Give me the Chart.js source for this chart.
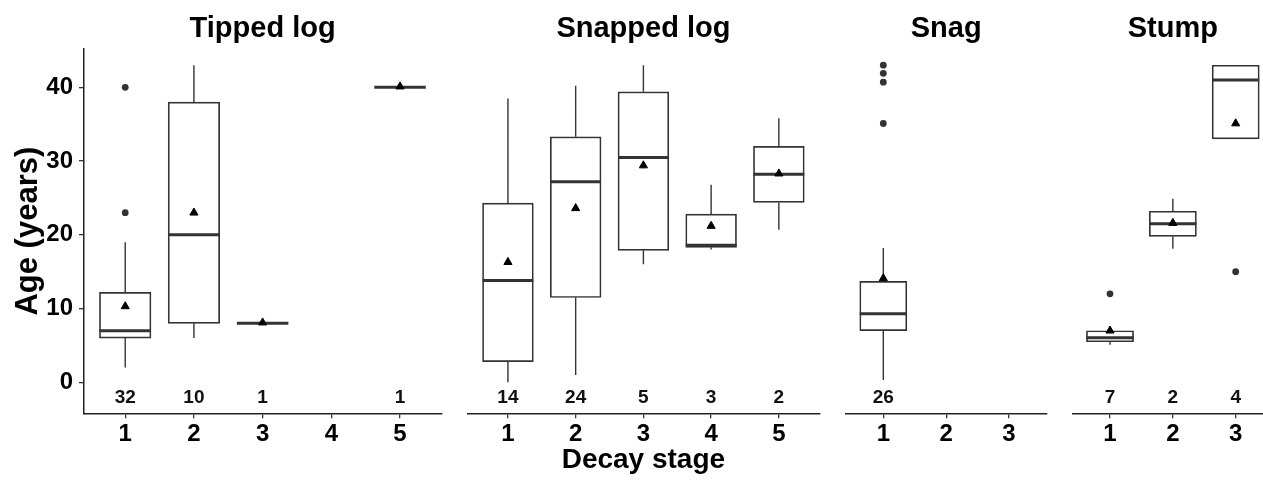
<!DOCTYPE html>
<html>
<head>
<meta charset="utf-8">
<title>Age by decay stage</title>
<script src="https://cdn.jsdelivr.net/npm/chart.js@4.4.0/dist/chart.umd.min.js"></script>
<style>
  html, body { margin: 0; padding: 0; background: #fff; overflow: hidden; }
  #wrap { position: relative; width: 1263px; height: 482px; overflow: hidden; }
  #wrap canvas { position: absolute; top: 0; }
</style>
</head>
<body>
<div id="wrap">
  <canvas id="p-tipped" width="456" height="482"></canvas>
  <canvas id="p-snapped" width="380" height="482"></canvas>
  <canvas id="p-snag" width="226" height="482"></canvas>
  <canvas id="p-stump" width="230" height="482"></canvas>
</div>
<script>
// ---- Data ----

const yTicks = [0, 10, 20, 30, 40];

// Tipped log
const tippedStages = [1, 2, 3, 4, 5];
const tippedLow    = [2,    6,  8,   null, 40];
const tippedQ1     = [6,    8,  8,   null, 40];
const tippedMedian = [7,    20, 8,   null, 40];
const tippedQ3     = [12.2, 38, 8,   null, 40];
const tippedHigh   = [19,   43, 8,   null, 40];
const tippedMean   = [10.3, 23, 8.1, null, 40.1];
const tippedN      = [32,   10, 1,   null, 1];
const tippedOutStage = [1, 1];
const tippedOutValue = [40, 23];

// Snapped log
const snappedStages = [1, 2, 3, 4, 5];
const snappedLow    = [0,    1,    16,   18,   20.7];
const snappedQ1     = [2.8,  11.5, 17.9, 18.3, 24.4];
const snappedMedian = [13.8, 27.2, 30.5, 18.6, 28.2];
const snappedQ3     = [24.3, 33.3, 39.4, 22.8, 32];
const snappedHigh   = [38.5, 40.2, 43,   26.8, 35.8];
const snappedMean   = [16.3, 23.6, 29.4, 21.2, 28.3];
const snappedN      = [14,   24,   5,    3,    2];
const snappedOutStage = [];
const snappedOutValue = [];

// Snag
const snagStages = [1, 2, 3];
const snagLow    = [0.3,  null, null];
const snagQ1     = [7,    null, null];
const snagMedian = [9.3,  null, null];
const snagQ3     = [13.7, null, null];
const snagHigh   = [18.2, null, null];
const snagMean   = [14.1, null, null];
const snagN      = [26,   null, null];
const snagOutStage = [1, 1, 1, 1];
const snagOutValue = [43, 41.9, 40.7, 35.1];

// Stump
const stumpStages = [1, 2, 3];
const stumpLow    = [5.1,  18.1, 33];
const stumpQ1     = [5.5,  19.8, 33];
const stumpMedian = [6.05, 21.5, 41];
const stumpQ3     = [7,    23.2, 43];
const stumpHigh   = [7,    24.9, 43];
const stumpMean   = [7,    21.6, 35.1];
const stumpN      = [7,    2,    4];
const stumpOutStage = [1, 3];
const stumpOutValue = [12, 15];

// ---- Look ----

const Y_MIN = -4.2;
const Y_MAX = 45.2;
const COUNT_Y = -2.1;       // where the n labels sit
const X_EXPAND = 0.6;       // ggplot-style discrete padding
const BOX_WIDTH = 0.75;
const INK = '#333333';
const FONT = '"Liberation Sans", Arial, Helvetica, sans-serif';

Chart.defaults.font.family = FONT;
Chart.defaults.color = '#000';

// canvas placement and plot-area edges, in page pixels
const panels = [
  { id: 'p-tipped',  title: 'Tipped log',  left: 0,    width: 456, plotLeft: 84,    plotRight: 441.25, yAxis: true,
    stages: tippedStages, low: tippedLow, q1: tippedQ1, med: tippedMedian, q3: tippedQ3, high: tippedHigh,
    mean: tippedMean, n: tippedN, outStage: tippedOutStage, outValue: tippedOutValue },
  { id: 'p-snapped', title: 'Snapped log', left: 455,  width: 380, plotLeft: 467.3, plotRight: 819.5, xTitle: 'Decay stage',
    stages: snappedStages, low: snappedLow, q1: snappedQ1, med: snappedMedian, q3: snappedQ3, high: snappedHigh,
    mean: snappedMean, n: snappedN, outStage: snappedOutStage, outValue: snappedOutValue },
  { id: 'p-snag',    title: 'Snag',        left: 834,  width: 226, plotLeft: 845.6, plotRight: 1046.7,
    stages: snagStages, low: snagLow, q1: snagQ1, med: snagMedian, q3: snagQ3, high: snagHigh,
    mean: snagMean, n: snagN, outStage: snagOutStage, outValue: snagOutValue },
  { id: 'p-stump',   title: 'Stump',       left: 1060, width: 230, plotLeft: 1072.3, plotRight: 1273.4,
    stages: stumpStages, low: stumpLow, q1: stumpQ1, med: stumpMedian, q3: stumpQ3, high: stumpHigh,
    mean: stumpMean, n: stumpN, outStage: stumpOutStage, outValue: stumpOutValue },
];

const PLOT_BOTTOM = 413.3;
const CANVAS_H = 482;

// ---- Count labels under each box ----

const countLabels = {
  id: 'countLabels',
  afterDatasetsDraw(chart, args, opts) {
    const { ctx, scales: { x, y } } = chart;
    ctx.save();
    ctx.font = `bold 19px ${FONT}`;
    ctx.fillStyle = '#111';
    ctx.textAlign = 'center';
    ctx.textBaseline = 'middle';
    opts.stages.forEach((s, i) => {
      if (opts.counts[i] == null) return;
      ctx.fillText(String(opts.counts[i]), x.getPixelForValue(s), y.getPixelForValue(COUNT_Y));
    });
    ctx.restore();
  }
};

// ---- Build one facet ----

function buildPanel(p) {
  const boxes = [], whiskers = [], medians = [], means = [];
  p.stages.forEach((s, i) => {
    if (p.med[i] == null) return;
    boxes.push({ x: s, y: [p.q1[i], p.q3[i]] });
    whiskers.push({ x: s, y: p.low[i] }, { x: s, y: p.q1[i] }, { x: s, y: null },
                  { x: s, y: p.q3[i] }, { x: s, y: p.high[i] }, { x: s, y: null });
    medians.push({ x: s - BOX_WIDTH / 2, y: p.med[i] }, { x: s + BOX_WIDTH / 2, y: p.med[i] }, { x: s, y: null });
    means.push({ x: s, y: p.mean[i] });
  });
  const outliers = p.outStage.map((s, i) => ({ x: s, y: p.outValue[i] }));

  const xMin = p.stages[0] - X_EXPAND;
  const xMax = p.stages[p.stages.length - 1] + X_EXPAND;
  const unitPx = (p.plotRight - p.plotLeft) / (xMax - xMin);

  const canvas = document.getElementById(p.id);
  canvas.style.left = p.left + 'px';

  const tickFont = { size: 24, weight: 'bold' };

  return new Chart(canvas, {
    type: 'bar',
    data: {
      datasets: [
        { type: 'line', label: 'mean', data: means, order: 0, showLine: false,
          pointStyle: 'triangle', pointRadius: 4.7, pointBackgroundColor: '#000', pointBorderColor: '#000', pointBorderWidth: 1 },
        { type: 'line', label: 'outliers', data: outliers, order: 1, showLine: false,
          pointStyle: 'circle', pointRadius: 3.4, pointBackgroundColor: INK, pointBorderWidth: 0 },
        { type: 'line', label: 'median', data: medians, order: 2, borderColor: INK, borderWidth: 3,
          borderCapStyle: 'butt', pointRadius: 0, spanGaps: false },
        { type: 'line', label: 'whisker', data: whiskers, order: 3, borderColor: INK, borderWidth: 1.4,
          borderCapStyle: 'butt', pointRadius: 0, spanGaps: false },
        { type: 'bar', label: 'box', data: boxes, order: 4, backgroundColor: '#fff', borderColor: INK,
          borderWidth: 1.7, borderSkipped: false, barThickness: unitPx * BOX_WIDTH },
      ],
    },
    options: {
      responsive: false,
      animation: false,
      events: [],
      layout: {
        padding: {
          left: p.yAxis ? 0 : p.plotLeft - p.left,
          right: p.left + p.width - p.plotRight,
          top: 0,
          bottom: 0,
        },
      },
      plugins: {
        legend: { display: false },
        tooltip: { enabled: false },
        title: {
          display: true, text: p.title, fullSize: false, color: '#000',
          font: { size: 29, weight: 'bold' }, padding: { top: 11.4, bottom: 2.8 },
        },
        countLabels: { stages: p.stages, counts: p.n },
      },
      scales: {
        x: {
          type: 'linear', min: xMin, max: xMax, offset: false,
          afterBuildTicks: (s) => { s.ticks = p.stages.map(v => ({ value: v })); },
          afterFit: (s) => { s.height = CANVAS_H - PLOT_BOTTOM; },
          border: { display: true, color: '#222', width: 1.5 },
          grid: { offset: false, drawOnChartArea: false, tickLength: 5, color: INK, lineWidth: 1.3 },
          ticks: { font: tickFont, color: '#000', padding: 2 },
          title: {
            display: !!p.xTitle, text: p.xTitle || '', color: '#000',
            font: { size: 28, weight: 'bold' }, padding: { bottom: 5.2 },
          },
        },
        y: {
          display: !!p.yAxis, min: Y_MIN, max: Y_MAX,
          afterBuildTicks: (s) => { s.ticks = yTicks.map(v => ({ value: v })); },
          afterFit: (s) => { if (p.yAxis) s.width = p.plotLeft - p.left; },
          border: { display: true, color: '#222', width: 1.5 },
          grid: { drawOnChartArea: false, tickLength: 5, color: INK, lineWidth: 1.3 },
          ticks: { font: tickFont, color: '#000', padding: 6 },
          title: {
            display: true, text: 'Age (years)', color: '#000',
            font: { size: 31, weight: 'bold' }, padding: { top: 9.5 },
          },
        },
      },
    },
    plugins: [countLabels],
  });
}

panels.forEach(buildPanel);
</script>
</body>
</html>
